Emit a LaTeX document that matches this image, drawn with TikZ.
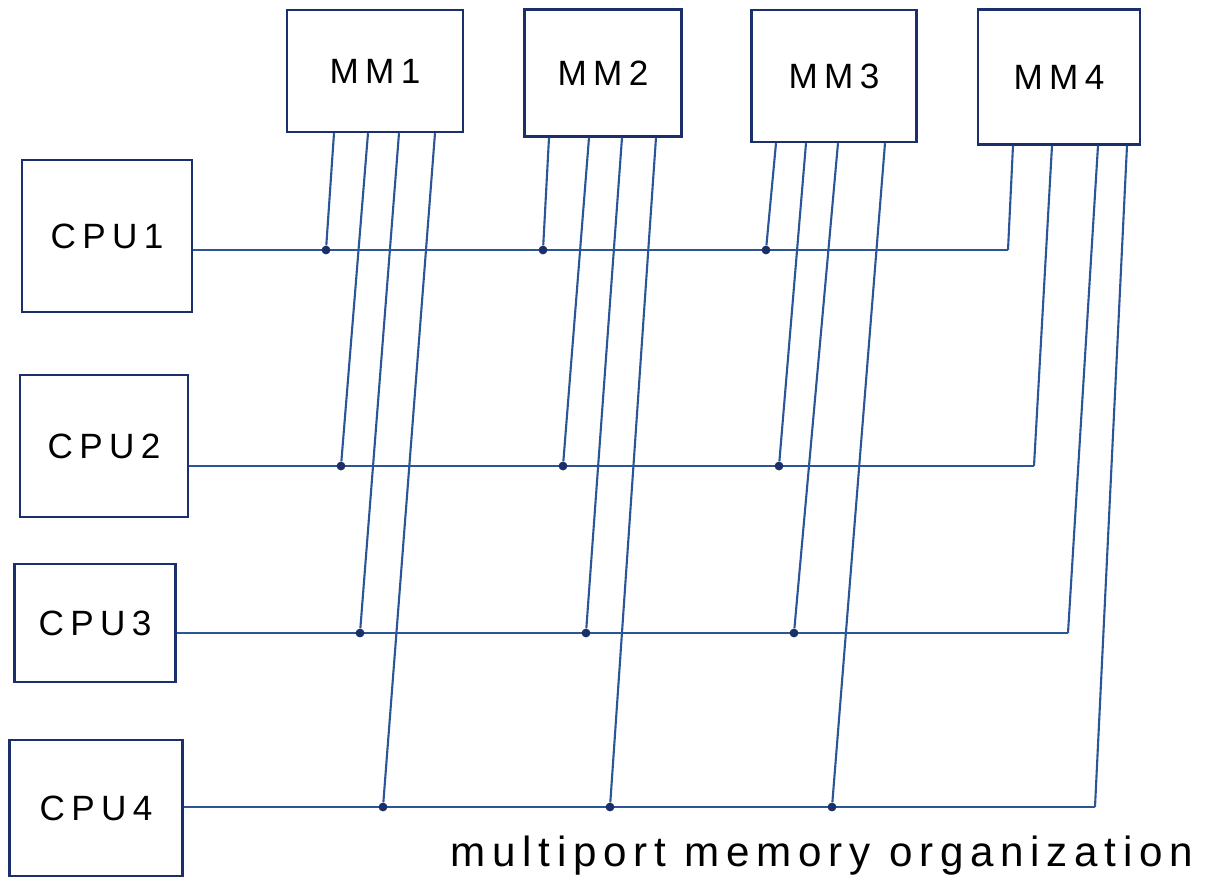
\documentclass[tikz,border=0pt]{standalone}
\usepackage{fontspec}
\setsansfont{Liberation Sans}
\usepackage{xcolor}
\usetikzlibrary{calc}

\definecolor{inkblue}{HTML}{1B2F6B}
\definecolor{wireblue}{HTML}{2A5597}

\begin{document}
\begin{tikzpicture}[
  x=0.02cm, y=-0.02cm,
  box/.style={draw=inkblue, line width=1.4pt, inner sep=0pt, align=center,
    font=\sffamily\fontsize{20}{24}\selectfont\addfontfeature{LetterSpace=18}},
  wire/.style={draw=wireblue, line width=1.2pt},
  tap/.style={circle, fill=inkblue, inner sep=0pt, minimum size=5pt}
]
  \useasboundingbox (0,0) rectangle (1232,877);

  % memory modules
  \node[box, minimum width=3.52cm, minimum height=2.44cm] (mm1) at (375,71) {MM1};
  \node[box, minimum width=3.14cm, minimum height=2.54cm] (mm2) at (603,73) {MM2};
  \node[box, minimum width=3.30cm, minimum height=2.64cm] (mm3) at (834,76) {MM3};
  \node[box, minimum width=3.24cm, minimum height=2.70cm] (mm4) at (1059,77) {MM4};

  % processors
  \node[box, minimum width=3.40cm, minimum height=3.04cm] (cpu1) at (107,236) {CPU1};
  \node[box, minimum width=3.36cm, minimum height=2.84cm] (cpu2) at (104,446) {CPU2};
  \node[box, minimum width=3.22cm, minimum height=2.36cm] (cpu3) at (95,623) {CPU3};
  \node[box, minimum width=3.46cm, minimum height=2.72cm] (cpu4) at (96,808) {CPU4};

  % bus ends at the MM4 ports
  \coordinate (e1) at (1008,250);
  \coordinate (e2) at (1034,466);
  \coordinate (e3) at (1068,633);
  \coordinate (e4) at (1095,807);

  % CPU buses
  \draw[wire] (cpu1.east |- e1) -- (e1);
  \draw[wire] (cpu2.east |- e2) -- (e2);
  \draw[wire] (cpu3.east |- e3) -- (e3);
  \draw[wire] (cpu4.east |- e4) -- (e4);

  % ports of MM1..MM3 tapped onto the buses
  \foreach \m/\c/\tx/\bx in {1/1/334/326, 1/2/368/341, 1/3/399/360, 1/4/435/383,
                             2/1/549/543, 2/2/589/563, 2/3/622/586, 2/4/656/610,
                             3/1/776/766, 3/2/806/779, 3/3/838/794, 3/4/885/832}{
    \coordinate (t\m\c) at (\tx,0 |- mm\m.south);
    \node[tap] (d\m\c) at (\bx,0 |- e\c) {};
    \draw[wire] (t\m\c) -- (d\m\c);
  }

  % ports of MM4 end the buses
  \foreach \c/\tx in {1/1013, 2/1052, 3/1098, 4/1127}{
    \coordinate (t4\c) at (\tx,0 |- mm4.south);
    \draw[wire] (t4\c) -- (e\c);
  }

  \node[font=\sffamily\fontsize{24}{28}\selectfont\addfontfeature{LetterSpace=16}] (caption) at (822,856)
    {multiport memory organization};
\end{tikzpicture}
\end{document}
